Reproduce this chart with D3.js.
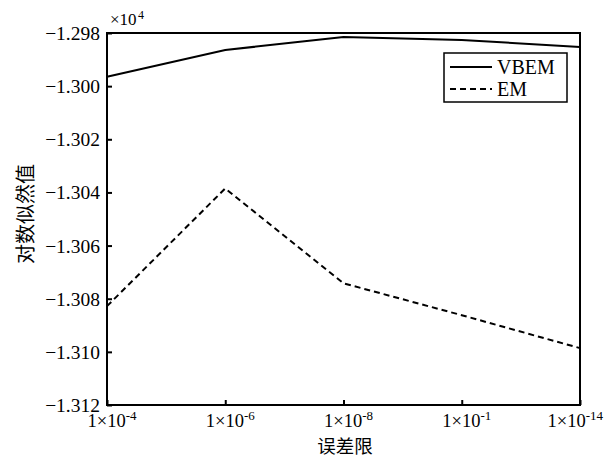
<!DOCTYPE html>
<html><head><meta charset="utf-8">
<script src="https://cdn.jsdelivr.net/npm/d3@7"></script>
<style>body{margin:0;background:#fff}</style>
</head><body>
<svg id="c" width="610" height="458"></svg>
<script>
const categories = ["-4", "-6", "-8", "-1", "-14"];
const vbem = [-12996.5, -12986.4, -12981.5, -12982.6, -12985.3];
const em = [-13082.8, -13038.5, -13074.2, -13086.2, -13098.6];
const yTicks = [-13120, -13100, -13080, -13060, -13040, -13020, -13000, -12980];
const seriesNames = ["VBEM", "EM"];

const svg = d3.select("#c");
const m = {l:107, r:580, t:33, b:405};
const x = d3.scalePoint().domain(categories).range([m.l, m.r]);
const y = d3.scaleLinear().domain([-13120, -12980]).range([m.b, m.t]);
const serif = "'Liberation Serif','Times New Roman',serif";

// frame
svg.append("rect").attr("x", m.l).attr("y", m.t).attr("width", m.r-m.l).attr("height", m.b-m.t)
  .attr("fill","none").attr("stroke","#000").attr("stroke-width",2);

// y axis
const ya = svg.append("g").attr("transform",`translate(${m.l},0)`)
  .call(d3.axisLeft(y).tickValues(yTicks).tickSizeInner(-5).tickSizeOuter(0).tickPadding(7)
    .tickFormat(d => "\u2212" + d3.format(".3f")(-d/10000)));
ya.select(".domain").remove();
ya.selectAll("line").attr("stroke","#000").attr("stroke-width",2);
ya.selectAll("text").attr("font-family",serif).attr("font-size",19.5).attr("fill","#000").attr("dy","0.33em");

// x axis
const xa = svg.append("g").attr("transform",`translate(0,${m.b})`)
  .call(d3.axisBottom(x).tickSizeInner(-5).tickSizeOuter(0).tickFormat(""));
xa.select(".domain").remove();
xa.selectAll("line").attr("stroke","#000").attr("stroke-width",2);
categories.forEach(c => {
  const g = svg.append("g");
  const b = g.append("text").attr("x", 0).attr("y", 427)
    .attr("font-family",serif).attr("font-size",18.5).attr("fill","#000").text("1\u00d710");
  const bw = b.node().getComputedTextLength();
  const s = g.append("text").attr("x", bw).attr("y", 420)
    .attr("font-family",serif).attr("font-size",13).attr("fill","#000").text(c);
  const sw = s.node().getComputedTextLength();
  let left = x(c) + 5 - (bw+sw)/2;
  left = Math.min(left, 603 - (bw+sw));
  g.attr("transform", `translate(${left},0)`);
});

// multiplier
svg.append("text").attr("x",110).attr("y",25).attr("font-family",serif).attr("font-size",17).text("\u00d710");
svg.append("text").attr("x",138).attr("y",19).attr("font-family",serif).attr("font-size",12).text("4");

// lines
const line = d3.line().x((d,i)=>x(categories[i])).y(d=>y(d));
svg.append("path").datum(vbem).attr("d",line).attr("fill","none").attr("stroke","#000").attr("stroke-width",2);
svg.append("path").datum(em).attr("d",line).attr("fill","none").attr("stroke","#000").attr("stroke-width",2)
  .attr("stroke-dasharray","6,4");

// legend
svg.append("rect").attr("x",444).attr("y",53).attr("width",123).attr("height",49)
  .attr("fill","#fff").attr("stroke","#000").attr("stroke-width",1.5);
seriesNames.forEach((n,i) => {
  const yy = 67 + i*22;
  svg.append("line").attr("x1",450).attr("x2",492).attr("y1",yy).attr("y2",yy)
    .attr("stroke","#000").attr("stroke-width",2).attr("stroke-dasharray", i ? "6,4" : null);
  svg.append("text").attr("x",497).attr("y",yy+7).attr("font-family",serif).attr("font-size",20).text(n);
});

// axis titles
svg.append("text").attr("x",345).attr("y",452.8).attr("text-anchor","middle")
  .attr("font-family","'Noto Sans CJK SC',sans-serif").attr("font-size",18.5).text("误差限");
svg.append("text").attr("transform","translate(33,214) rotate(-90)").attr("text-anchor","middle")
  .attr("font-family","'Noto Sans CJK SC',sans-serif").attr("font-size",20).text("对数似然值");
</script>
</body></html>
